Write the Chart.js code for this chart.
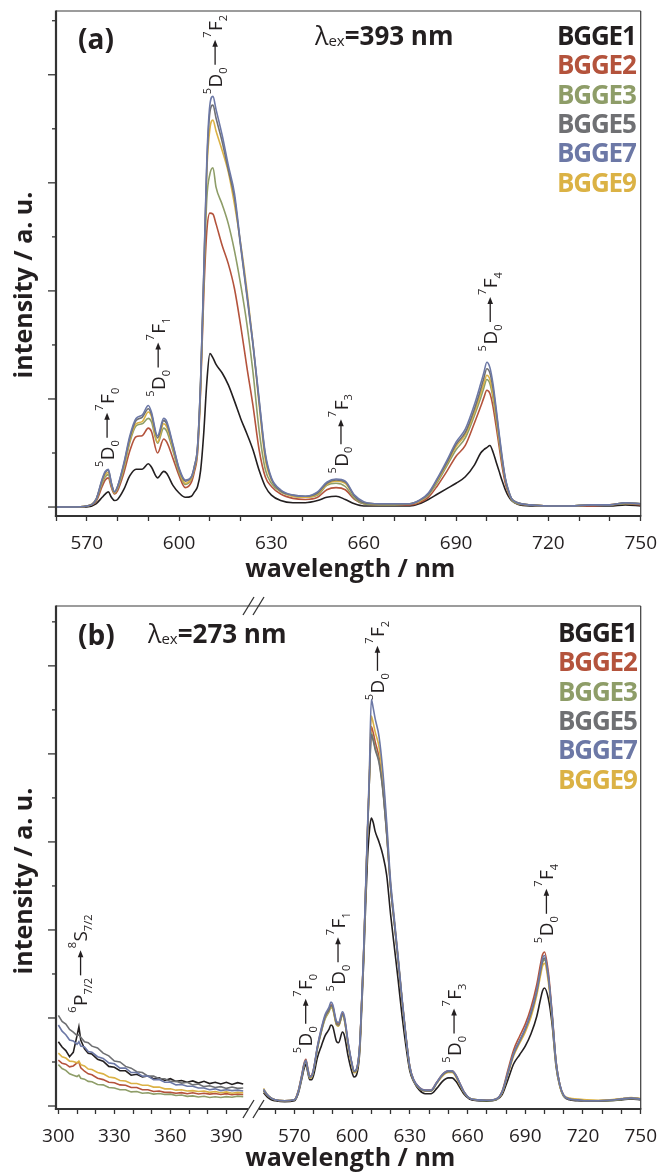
<!DOCTYPE html>
<html>
<head>
<meta charset="utf-8">
<script src="https://cdn.jsdelivr.net/npm/chart.js@4.4.1/dist/chart.umd.min.js"></script>
<style>
  html, body { margin: 0; padding: 0; background: #fff; }
  #chartA { position: absolute; left: 0; top: 0; }
  #chartB { position: absolute; left: 0; top: 590px; }
</style>
</head>
<body>
<canvas id="chartA" width="668" height="590"></canvas>
<canvas id="chartB" width="668" height="582"></canvas>
<script>
// ---- data ----
const names = ['BGGE1', 'BGGE2', 'BGGE3', 'BGGE5', 'BGGE7', 'BGGE9'];
const colors = ['#231f20', '#b4533c', '#8e9d68', '#6f7073', '#6c78a6', '#dbb245'];
const drawOrder = [5, 4, 3, 1, 0, 2];

// panel (a), excitation 393 nm
const wlA = [560, 565, 570, 573, 575, 576, 577, 578, 579, 580,
  582, 584, 586, 588, 590, 591, 593, 595, 596, 598,
  600, 602, 604, 605, 606, 607, 608, 609, 610, 611,
  612, 614, 616, 618, 620, 622, 624, 626, 628, 630,
  633, 637, 641, 645, 648, 651, 654, 657, 660, 665,
  670, 675, 678, 681, 684, 687, 690, 693, 696, 698,
  699, 700, 701, 702, 703, 704, 705, 706, 707, 708,
  710, 714, 720, 727, 734, 740, 745, 750];
const e1A = [0.00, 0.00, 0.00, 0.03, 0.09, 0.12, 0.14, 0.09, 0.06, 0.07,
  0.16, 0.29, 0.35, 0.35, 0.40, 0.37, 0.27, 0.33, 0.31, 0.20,
  0.13, 0.09, 0.10, 0.14, 0.19, 0.34, 0.68, 1.15, 1.42, 1.38,
  1.32, 1.24, 1.13, 0.98, 0.82, 0.68, 0.53, 0.34, 0.19, 0.11,
  0.06, 0.04, 0.04, 0.06, 0.09, 0.10, 0.07, 0.03, 0.01, 0.01,
  0.01, 0.01, 0.03, 0.07, 0.12, 0.17, 0.22, 0.28, 0.39, 0.50,
  0.53, 0.55, 0.57, 0.51, 0.42, 0.33, 0.24, 0.16, 0.10, 0.06,
  0.025, 0.01, 0.01, 0.01, 0.01, 0.01, 0.02, 0.01];
const e2A = [0.00, 0.00, 0.01, 0.05, 0.19, 0.25, 0.27, 0.18, 0.12, 0.15,
  0.31, 0.52, 0.65, 0.66, 0.73, 0.70, 0.50, 0.63, 0.60, 0.45,
  0.29, 0.18, 0.23, 0.33, 0.50, 1.08, 1.95, 2.55, 2.72, 2.71,
  2.62, 2.42, 2.25, 2.02, 1.68, 1.30, 0.94, 0.53, 0.28, 0.19,
  0.12, 0.08, 0.07, 0.09, 0.16, 0.18, 0.16, 0.07, 0.03, 0.02,
  0.02, 0.02, 0.04, 0.09, 0.20, 0.33, 0.47, 0.57, 0.78, 0.93,
  1.01, 1.08, 1.05, 0.93, 0.75, 0.56, 0.37, 0.22, 0.13, 0.07,
  0.03, 0.02, 0.01, 0.01, 0.01, 0.02, 0.03, 0.02];
const e3A = [0.00, 0.00, 0.01, 0.06, 0.22, 0.28, 0.30, 0.20, 0.13, 0.17,
  0.35, 0.60, 0.75, 0.77, 0.82, 0.79, 0.59, 0.73, 0.70, 0.52,
  0.32, 0.21, 0.26, 0.36, 0.53, 1.12, 2.05, 2.85, 3.08, 3.14,
  2.96, 2.80, 2.62, 2.37, 2.06, 1.70, 1.25, 0.71, 0.35, 0.22,
  0.14, 0.10, 0.09, 0.11, 0.20, 0.22, 0.19, 0.08, 0.03, 0.02,
  0.02, 0.03, 0.05, 0.11, 0.23, 0.38, 0.53, 0.64, 0.85, 1.01,
  1.10, 1.18, 1.14, 1.01, 0.82, 0.61, 0.41, 0.25, 0.14, 0.07,
  0.03, 0.02, 0.01, 0.01, 0.02, 0.02, 0.03, 0.03];
const e5A = [0.00, 0.00, 0.01, 0.07, 0.25, 0.32, 0.34, 0.22, 0.14, 0.19,
  0.39, 0.64, 0.80, 0.83, 0.91, 0.86, 0.64, 0.80, 0.77, 0.57,
  0.35, 0.24, 0.28, 0.38, 0.56, 1.17, 2.13, 3.15, 3.65, 3.72,
  3.60, 3.38, 3.12, 2.86, 2.41, 1.96, 1.50, 0.98, 0.48, 0.26,
  0.15, 0.11, 0.10, 0.13, 0.22, 0.25, 0.23, 0.10, 0.04, 0.03,
  0.03, 0.03, 0.06, 0.12, 0.26, 0.41, 0.58, 0.69, 0.91, 1.09,
  1.19, 1.28, 1.24, 1.10, 0.89, 0.66, 0.44, 0.26, 0.15, 0.08,
  0.04, 0.02, 0.01, 0.01, 0.02, 0.02, 0.04, 0.03];
const e7A = [0.00, 0.00, 0.01, 0.07, 0.26, 0.33, 0.35, 0.22, 0.14, 0.19,
  0.40, 0.66, 0.82, 0.85, 0.94, 0.88, 0.66, 0.82, 0.79, 0.58,
  0.36, 0.25, 0.28, 0.38, 0.56, 1.18, 2.15, 3.20, 3.72, 3.80,
  3.68, 3.44, 3.16, 2.90, 2.43, 1.98, 1.52, 1.00, 0.50, 0.27,
  0.16, 0.11, 0.10, 0.14, 0.23, 0.26, 0.24, 0.11, 0.05, 0.03,
  0.03, 0.03, 0.06, 0.13, 0.27, 0.43, 0.60, 0.72, 0.95, 1.14,
  1.24, 1.34, 1.29, 1.14, 0.92, 0.68, 0.46, 0.27, 0.16, 0.08,
  0.04, 0.02, 0.01, 0.01, 0.02, 0.02, 0.04, 0.03];
const e9A = [0.00, 0.00, 0.01, 0.07, 0.24, 0.30, 0.32, 0.21, 0.13, 0.18,
  0.37, 0.62, 0.77, 0.79, 0.88, 0.84, 0.60, 0.77, 0.74, 0.55,
  0.34, 0.22, 0.27, 0.37, 0.55, 1.15, 2.10, 3.10, 3.50, 3.58,
  3.48, 3.30, 3.10, 2.80, 2.44, 2.02, 1.52, 0.95, 0.44, 0.25,
  0.15, 0.10, 0.09, 0.12, 0.21, 0.24, 0.22, 0.10, 0.04, 0.03,
  0.03, 0.03, 0.05, 0.12, 0.25, 0.40, 0.56, 0.67, 0.88, 1.05,
  1.14, 1.22, 1.18, 1.04, 0.85, 0.63, 0.43, 0.26, 0.15, 0.08,
  0.04, 0.02, 0.01, 0.01, 0.02, 0.02, 0.04, 0.03];

// panel (b), excitation 273 nm: short-wavelength part (noisy)
const wlBl = [300, 302, 304, 306, 308, 310, 311, 312, 314, 316,
  318, 321, 324, 327, 330, 333, 336, 339, 342, 345,
  348, 351, 354, 357, 360, 363, 366, 369, 372, 375,
  378, 381, 384, 387, 390, 393, 396, 399];
const e1Bl = [0.73, 0.67, 0.63, 0.56, 0.61, 0.80, 0.90, 0.75, 0.65, 0.60,
  0.59, 0.53, 0.51, 0.45, 0.44, 0.40, 0.40, 0.35, 0.36, 0.33,
  0.34, 0.31, 0.32, 0.29, 0.31, 0.28, 0.29, 0.27, 0.285, 0.26,
  0.28, 0.255, 0.27, 0.25, 0.27, 0.245, 0.265, 0.25];
const e2Bl = [0.52, 0.485, 0.475, 0.445, 0.455, 0.49, 0.50, 0.435, 0.395, 0.365,
  0.355, 0.315, 0.30, 0.27, 0.265, 0.24, 0.235, 0.21, 0.21, 0.185,
  0.185, 0.165, 0.17, 0.155, 0.155, 0.145, 0.152, 0.14, 0.15, 0.137,
  0.145, 0.135, 0.142, 0.13, 0.14, 0.128, 0.136, 0.13];
const e3Bl = [0.47, 0.425, 0.405, 0.365, 0.35, 0.335, 0.35, 0.315, 0.305, 0.28,
  0.275, 0.245, 0.24, 0.21, 0.205, 0.185, 0.185, 0.16, 0.165, 0.145,
  0.15, 0.135, 0.142, 0.13, 0.135, 0.12, 0.125, 0.11, 0.115, 0.103,
  0.11, 0.097, 0.105, 0.096, 0.106, 0.10, 0.112, 0.107];
const e5Bl = [1.03, 0.96, 0.93, 0.87, 0.84, 0.80, 0.81, 0.78, 0.73, 0.72,
  0.68, 0.66, 0.60, 0.57, 0.51, 0.50, 0.45, 0.43, 0.39, 0.38,
  0.34, 0.34, 0.31, 0.31, 0.28, 0.28, 0.26, 0.27, 0.24, 0.25,
  0.22, 0.23, 0.21, 0.22, 0.20, 0.215, 0.20, 0.205];
const e7Bl = [0.92, 0.85, 0.81, 0.75, 0.74, 0.70, 0.73, 0.68, 0.67, 0.62,
  0.61, 0.56, 0.54, 0.49, 0.48, 0.43, 0.43, 0.38, 0.38, 0.34,
  0.34, 0.30, 0.30, 0.27, 0.27, 0.24, 0.245, 0.225, 0.225, 0.205,
  0.205, 0.185, 0.195, 0.175, 0.185, 0.175, 0.18, 0.17];
const e9Bl = [0.60, 0.56, 0.545, 0.51, 0.505, 0.49, 0.51, 0.47, 0.455, 0.42,
  0.415, 0.38, 0.365, 0.33, 0.32, 0.29, 0.285, 0.255, 0.255, 0.235,
  0.235, 0.215, 0.215, 0.195, 0.195, 0.18, 0.185, 0.17, 0.175, 0.165,
  0.17, 0.155, 0.165, 0.15, 0.16, 0.145, 0.155, 0.15];

// panel (b): long-wavelength part
const wlBr = [554, 556, 558, 560, 565, 570, 572, 574, 575, 576,
  577, 578, 579, 580, 582, 584, 586, 588, 589, 590,
  592, 593, 595, 596, 598, 600, 601, 602, 604, 605,
  606, 607, 608, 609, 610, 611, 612, 614, 616, 618,
  620, 622, 624, 626, 628, 630, 632, 635, 638, 641,
  644, 647, 650, 652, 654, 656, 658, 661, 665, 670,
  675, 678, 681, 684, 687, 690, 693, 696, 698, 699,
  700, 702, 704, 706, 708, 710, 713, 717, 722, 728,
  734, 740, 745, 750];
const e1Br = [0.15, 0.10, 0.07, 0.06, 0.05, 0.06, 0.14, 0.32, 0.42, 0.47,
  0.38, 0.30, 0.30, 0.35, 0.55, 0.68, 0.80, 0.87, 0.92, 0.90,
  0.73, 0.72, 0.84, 0.80, 0.56, 0.38, 0.33, 0.34, 0.62, 1.10,
  1.62, 2.25, 2.80, 3.12, 3.27, 3.22, 3.12, 3.00, 2.85, 2.62,
  2.18, 1.80, 1.42, 1.02, 0.68, 0.40, 0.28, 0.18, 0.14, 0.14,
  0.20, 0.28, 0.32, 0.32, 0.28, 0.21, 0.14, 0.08, 0.06, 0.055,
  0.07, 0.13, 0.30, 0.48, 0.58, 0.68, 0.82, 1.02, 1.22, 1.31,
  1.34, 1.22, 0.92, 0.45, 0.22, 0.11, 0.07, 0.06, 0.055, 0.055,
  0.06, 0.07, 0.08, 0.07];
const e2Br = [0.17, 0.12, 0.09, 0.07, 0.06, 0.07, 0.17, 0.37, 0.48, 0.53,
  0.43, 0.34, 0.35, 0.42, 0.67, 0.87, 1.02, 1.10, 1.15, 1.13,
  0.94, 0.93, 1.05, 1.00, 0.71, 0.47, 0.39, 0.40, 0.70, 1.19,
  1.73, 2.42, 3.10, 3.72, 4.31, 4.24, 4.14, 3.96, 3.62, 3.10,
  2.50, 2.08, 1.65, 1.20, 0.79, 0.45, 0.30, 0.21, 0.18, 0.18,
  0.27, 0.36, 0.40, 0.40, 0.35, 0.26, 0.17, 0.09, 0.07, 0.065,
  0.08, 0.17, 0.41, 0.64, 0.79, 0.93, 1.12, 1.38, 1.62, 1.72,
  1.75, 1.52, 1.05, 0.51, 0.24, 0.12, 0.08, 0.07, 0.06, 0.06,
  0.065, 0.08, 0.09, 0.08];
const e3Br = [0.17, 0.12, 0.09, 0.07, 0.06, 0.07, 0.16, 0.35, 0.46, 0.51,
  0.41, 0.32, 0.33, 0.40, 0.65, 0.84, 0.99, 1.07, 1.12, 1.10,
  0.92, 0.91, 1.03, 0.98, 0.69, 0.46, 0.38, 0.39, 0.68, 1.17,
  1.70, 2.40, 3.08, 3.70, 4.24, 4.17, 4.07, 3.92, 3.60, 3.10,
  2.50, 2.08, 1.65, 1.20, 0.78, 0.44, 0.29, 0.20, 0.17, 0.17,
  0.26, 0.35, 0.39, 0.39, 0.34, 0.25, 0.16, 0.09, 0.07, 0.06,
  0.075, 0.16, 0.38, 0.60, 0.74, 0.87, 1.05, 1.30, 1.53, 1.63,
  1.66, 1.45, 1.01, 0.49, 0.23, 0.11, 0.08, 0.07, 0.06, 0.06,
  0.06, 0.075, 0.085, 0.075];
const e5Br = [0.18, 0.12, 0.09, 0.07, 0.06, 0.07, 0.16, 0.35, 0.46, 0.51,
  0.41, 0.33, 0.34, 0.41, 0.66, 0.85, 1.01, 1.09, 1.14, 1.12,
  0.93, 0.92, 1.04, 0.99, 0.70, 0.47, 0.39, 0.40, 0.69, 1.18,
  1.72, 2.40, 3.08, 3.70, 4.22, 4.15, 4.05, 3.90, 3.58, 3.08,
  2.48, 2.06, 1.64, 1.19, 0.78, 0.44, 0.29, 0.20, 0.17, 0.17,
  0.26, 0.35, 0.39, 0.39, 0.34, 0.25, 0.16, 0.09, 0.07, 0.065,
  0.08, 0.16, 0.37, 0.59, 0.73, 0.87, 1.05, 1.30, 1.54, 1.65,
  1.68, 1.46, 1.02, 0.50, 0.24, 0.12, 0.08, 0.07, 0.06, 0.06,
  0.065, 0.08, 0.09, 0.08];
const e7Br = [0.19, 0.13, 0.09, 0.07, 0.06, 0.07, 0.16, 0.36, 0.47, 0.52,
  0.42, 0.33, 0.34, 0.42, 0.68, 0.88, 1.04, 1.12, 1.18, 1.15,
  0.96, 0.95, 1.07, 1.02, 0.72, 0.48, 0.40, 0.41, 0.70, 1.20,
  1.75, 2.45, 3.15, 3.80, 4.62, 4.52, 4.40, 4.20, 3.80, 3.22,
  2.56, 2.12, 1.68, 1.22, 0.80, 0.45, 0.30, 0.21, 0.18, 0.18,
  0.27, 0.36, 0.40, 0.40, 0.35, 0.26, 0.17, 0.09, 0.07, 0.065,
  0.08, 0.16, 0.38, 0.60, 0.74, 0.88, 1.07, 1.32, 1.56, 1.68,
  1.71, 1.48, 1.03, 0.50, 0.24, 0.12, 0.08, 0.07, 0.06, 0.06,
  0.065, 0.08, 0.09, 0.08];
const e9Br = [0.20, 0.13, 0.09, 0.07, 0.06, 0.07, 0.16, 0.35, 0.46, 0.51,
  0.41, 0.32, 0.33, 0.41, 0.66, 0.85, 1.00, 1.08, 1.13, 1.10,
  0.92, 0.91, 1.03, 0.98, 0.69, 0.46, 0.38, 0.39, 0.68, 1.18,
  1.72, 2.42, 3.10, 3.75, 4.43, 4.35, 4.25, 4.08, 3.72, 3.16,
  2.52, 2.09, 1.66, 1.20, 0.79, 0.44, 0.29, 0.20, 0.17, 0.17,
  0.26, 0.34, 0.38, 0.38, 0.33, 0.24, 0.16, 0.09, 0.07, 0.065,
  0.08, 0.15, 0.36, 0.57, 0.71, 0.84, 1.01, 1.26, 1.49, 1.59,
  1.62, 1.41, 0.99, 0.48, 0.23, 0.12, 0.09, 0.08, 0.07, 0.065,
  0.07, 0.085, 0.095, 0.085];

// ticks and labels
const xTicksA = [560, 570, 580, 590, 600, 610, 620, 630, 640, 650, 660, 670, 680, 690, 700, 710, 720, 730, 740, 750];
const xLabelsA = [570, 600, 630, 660, 690, 720, 750];
const xTicksBl = [300, 310, 320, 330, 340, 350, 360, 370, 380, 390];
const xLabelsBl = [300, 330, 360, 390];
const xTicksBr = [560, 570, 580, 590, 600, 610, 620, 630, 640, 650, 660, 670, 680, 690, 700, 710, 720, 730, 740, 750];
const xLabelsBr = [570, 600, 630, 660, 690, 720, 750];
const yTicksA = [0, 0.5, 1, 1.5, 2, 2.5, 3, 3.5, 4, 4.5];
const yTicksB = [0, 0.5, 1, 1.5, 2, 2.5, 3, 3.5, 4, 4.5, 5, 5.5];

const INK = '#231f20';
const FONT = '"Open Sans", "Noto Sans", sans-serif';

function pts(xs, ys) {
  return xs.map((x, i) => ({ x: x, y: ys[i] }));
}

function makeSets(xs, list, axisId, smooth) {
  return list.map((ys, i) => ({
    label: names[i],
    data: pts(xs, ys),
    xAxisID: axisId,
    yAxisID: 'y',
    borderColor: colors[i],
    borderWidth: 1.6,
    pointRadius: 0,
    fill: false,
    cubicInterpolationMode: smooth ? 'monotone' : 'default',
    tension: 0,
    order: drawOrder[i]
  }));
}

function xScale(min, max, tickVals, labelVals, axisH, extra) {
  return Object.assign({
    type: 'linear',
    position: 'bottom',
    min: min,
    max: max,
    afterBuildTicks: s => { s.ticks = tickVals.map(v => ({ value: v })); },
    afterFit: s => { s.height = axisH; },
    grid: { display: true, drawOnChartArea: false, drawTicks: true, tickLength: 5, tickWidth: 1.3, tickColor: '#333' },
    border: { display: false },
    ticks: {
      autoSkip: false, maxRotation: 0, padding: 11, color: INK,
      font: { family: FONT, size: 19 },
      callback: v => labelVals.includes(v) ? String(v) : ''
    }
  }, extra || {});
}

// rotated term label like 5D0 -> 7F2, anchored at its lower end
function drawTransition(ctx, px, py, parts) {
  ctx.save();
  ctx.translate(px, py);
  ctx.rotate(-Math.PI / 2);
  ctx.fillStyle = INK;
  ctx.strokeStyle = INK;
  ctx.textAlign = 'left';
  ctx.textBaseline = 'alphabetic';
  let x = 0;
  for (const p of parts) {
    if (p === '->') {
      x += 2;
      ctx.lineWidth = 1.3;
      ctx.beginPath(); ctx.moveTo(x, 0); ctx.lineTo(x + 20, 0); ctx.stroke();
      ctx.beginPath(); ctx.moveTo(x + 25, 0); ctx.lineTo(x + 18, -2.8); ctx.lineTo(x + 18, 2.8); ctx.closePath(); ctx.fill();
      x += 27;
      continue;
    }
    const txt = p[0], kind = p[1];
    const size = kind ? 11 : 19;
    ctx.font = size + 'px ' + FONT;
    const dy = kind === 'sup' ? -4.5 : (kind === 'sub' ? 11.5 : 6.8);
    ctx.fillText(txt, x, dy);
    x += ctx.measureText(txt).width + (kind ? 0.5 : 0);
  }
  ctx.restore();
}

function d0f(j) {
  return [['5', 'sup'], ['D'], ['0', 'sub'], '->', ['7', 'sup'], ['F'], [j, 'sub']];
}
const p2s = [['6', 'sup'], ['P'], ['7/2', 'sub'], '->', ['8', 'sup'], ['S'], ['7/2', 'sub']];

function line(ctx, x1, y1, x2, y2) {
  ctx.beginPath(); ctx.moveTo(x1, y1); ctx.lineTo(x2, y2); ctx.stroke();
}

function panelPlugin(cfg) {
  return {
    id: 'panel' + cfg.tag,
    afterDraw(chart) {
      const ctx = chart.ctx;
      const ca = chart.chartArea;
      const ys = chart.scales.y;
      ctx.save();
      // frame
      ctx.strokeStyle = '#3a3a3a';
      ctx.lineWidth = 1.2;
      line(ctx, ca.left, ca.top, ca.right, ca.top);
      line(ctx, ca.right, ca.top, ca.right, ca.bottom);
      ctx.strokeStyle = '#333';
      ctx.lineWidth = 2.2;
      line(ctx, ca.left, ca.top - 0.6, ca.left, ca.bottom + 1.1);
      if (cfg.brk) {
        line(ctx, ca.left - 1.1, ca.bottom, cfg.brk.a, ca.bottom);
        line(ctx, cfg.brk.b, ca.bottom, ca.right + 0.6, ca.bottom);
        ctx.lineWidth = 1.3;
        for (const yy of [ca.top, ca.bottom]) {
          line(ctx, cfg.brk.a - 5, yy + 9, cfg.brk.a + 6, yy - 9);
          line(ctx, cfg.brk.b - 6, yy + 9, cfg.brk.b + 5, yy - 9);
        }
      } else {
        line(ctx, ca.left - 1.1, ca.bottom, ca.right + 0.6, ca.bottom);
      }
      // y ticks (long at integers, short at halves)
      ctx.lineWidth = 1.3;
      for (const v of cfg.yTicks) {
        const py = ys.getPixelForValue(v);
        const len = Number.isInteger(v) ? 8 : 4;
        line(ctx, ca.left - len, py, ca.left, py);
      }
      // transition labels
      for (const a of cfg.notes) {
        const px = chart.scales[a.axis].getPixelForValue(a.nm);
        const py = ys.getPixelForValue(a.val);
        drawTransition(ctx, px, py, a.parts);
      }
      // panel letter
      ctx.fillStyle = INK;
      ctx.textAlign = 'left';
      ctx.textBaseline = 'alphabetic';
      ctx.font = 'bold 28px ' + FONT;
      ctx.fillText(cfg.letter, cfg.letterPos[0], cfg.letterPos[1]);
      // excitation wavelength
      let ex = cfg.exPos[0];
      ctx.font = '25px ' + FONT;
      ctx.fillText('λ', ex, cfg.exPos[1]);
      ex += ctx.measureText('λ').width;
      ctx.font = '15px ' + FONT;
      ctx.fillText('ex', ex, cfg.exPos[1] + 1);
      ex += ctx.measureText('ex').width;
      ctx.font = 'bold 26px ' + FONT;
      ctx.fillText('=' + cfg.ex + ' nm', ex, cfg.exPos[1]);
      // legend
      ctx.font = 'bold 26px ' + FONT;
      ctx.letterSpacing = '-1.2px';
      names.forEach((n, i) => {
        ctx.fillStyle = colors[i];
        ctx.fillText(n, cfg.legendPos[0], cfg.legendPos[1] + i * 29.3);
      });
      ctx.letterSpacing = '0px';
      // axis titles
      ctx.fillStyle = INK;
      ctx.font = 'bold 25px ' + FONT;
      ctx.textAlign = 'center';
      ctx.fillText('wavelength / nm', (ca.left + ca.right) / 2 + 2, cfg.xTitleY);
      ctx.save();
      ctx.translate(32, cfg.yTitleY);
      ctx.rotate(-Math.PI / 2);
      ctx.fillText('intensity / a. u.', 0, 0);
      ctx.restore();
      ctx.restore();
    }
  };
}

const chartA = new Chart(document.getElementById('chartA'), {
  type: 'line',
  data: { datasets: makeSets(wlA, [e1A, e2A, e3A, e5A, e7A, e9A], 'x', true) },
  options: {
    responsive: false,
    animation: false,
    events: [],
    layout: { padding: { left: 56, top: 11, right: 17, bottom: 0 } },
    plugins: { legend: { display: false }, tooltip: { enabled: false } },
    scales: {
      x: xScale(560, 750, xTicksA, xLabelsA, 74),
      y: { type: 'linear', display: false, min: -0.083, max: 4.59 }
    }
  },
  plugins: [panelPlugin({
    tag: 'A', yTicks: yTicksA, letter: '(a)', letterPos: [78, 49],
    ex: '393', exPos: [315, 45], legendPos: [557, 45],
    xTitleY: 577, yTitleY: 285, brk: null,
    notes: [
      { axis: 'x', nm: 576.6, val: 0.37, parts: d0f('0') },
      { axis: 'x', nm: 593.2, val: 1.02, parts: d0f('1') },
      { axis: 'x', nm: 611.7, val: 3.82, parts: d0f('2') },
      { axis: 'x', nm: 652.6, val: 0.31, parts: d0f('3') },
      { axis: 'x', nm: 701.1, val: 1.44, parts: d0f('4') }
    ]
  })]
});

const chartB = new Chart(document.getElementById('chartB'), {
  type: 'line',
  data: {
    datasets: makeSets(wlBl, [e1Bl, e2Bl, e3Bl, e5Bl, e7Bl, e9Bl], 'xl', false)
      .concat(makeSets(wlBr, [e1Br, e2Br, e3Br, e5Br, e7Br, e9Br], 'xr', true))
  },
  options: {
    responsive: false,
    animation: false,
    events: [],
    layout: { padding: { left: 56, top: 16, right: 17, bottom: 0 } },
    plugins: { legend: { display: false }, tooltip: { enabled: false } },
    scales: {
      xl: xScale(298.74, 405.05, xTicksBl, xLabelsBl, 63, { stack: 'wl', stackWeight: 202 }),
      xr: xScale(549.3, 750, xTicksBr, xLabelsBr, 63, { stack: 'wl', stackWeight: 393 }),
      y: { type: 'linear', display: false, min: -0.034, max: 5.68 }
    }
  },
  plugins: [panelPlugin({
    tag: 'B', yTicks: yTicksB, letter: '(b)', letterPos: [78, 55],
    ex: '273', exPos: [148, 53], legendPos: [558, 52],
    xTitleY: 576, yTitleY: 291, brk: { a: 248, b: 259 },
    notes: [
      { axis: 'xl', nm: 311.9, val: 1.06, parts: p2s },
      { axis: 'xr', nm: 575.9, val: 0.60, parts: d0f('0') },
      { axis: 'xr', nm: 592.7, val: 1.30, parts: d0f('1') },
      { axis: 'xr', nm: 613.2, val: 4.61, parts: d0f('2') },
      { axis: 'xr', nm: 653.0, val: 0.49, parts: d0f('3') },
      { axis: 'xr', nm: 701.0, val: 1.85, parts: d0f('4') }
    ]
  })]
});
</script>
</body>
</html>
